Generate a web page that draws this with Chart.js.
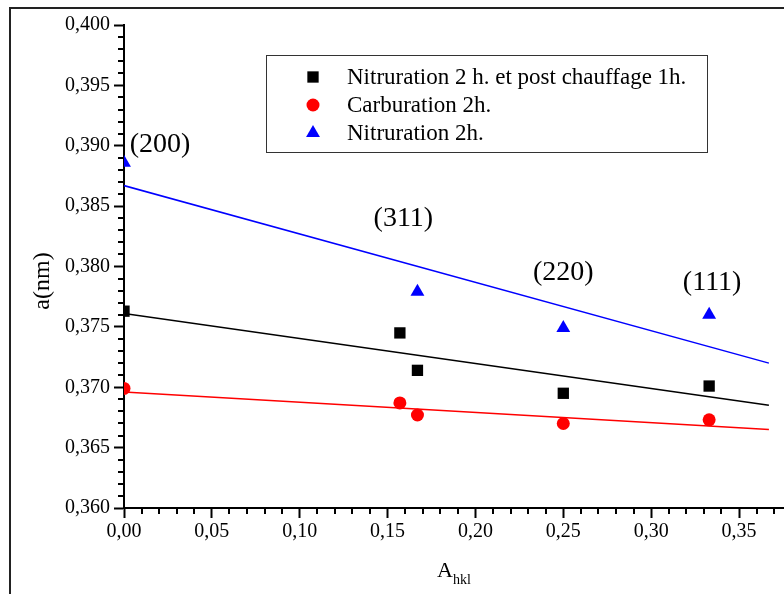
<!DOCTYPE html>
<html>
<head>
<meta charset="utf-8">
<title>a(nm) vs A_hkl</title>
<script src="https://cdn.jsdelivr.net/npm/chart.js@4.4.0/dist/chart.umd.min.js"></script>
<style>
  html, body { margin: 0; padding: 0; background: #fff; }
  #wrap { position: relative; width: 784px; height: 594px; }
</style>
</head>
<body>
<div id="wrap"><canvas id="latticeChart"></canvas></div>
<script>
// --- values ---
const aHkl = [0, 0.157, 0.167, 0.25, 0.333];
const aNitruPost = [0.3763, 0.3745, 0.3714, 0.3695, 0.3701];
const aCarbu = [0.3699, 0.3687, 0.3677, 0.3670, 0.3673];
const aHklNitru = [0, 0.167, 0.25, 0.333];
const aNitru = [0.3886, 0.3779, 0.3749, 0.3760];

// linear fits, end points
const fitX = [0, 0.367];
const fitNitruPost = [0.3761, 0.3685];
const fitCarbu = [0.3696, 0.3665];
const fitNitru = [0.3867, 0.3720];

// (hkl) peak labels
const hklLabels = ['(200)', '(311)', '(220)', '(111)'];
const hklX = [0.0205, 0.159, 0.250, 0.3347];
const hklY = [0.3901, 0.3840, 0.3795, 0.3787];

// axes
const xMin = 0, xMax = 0.3756, xStep = 0.05, xMinor = 0.01;
const yMin = 0.36, yMax = 0.40, yStep = 0.005, yMinor = 0.001;

const SERIF = "'Liberation Serif', 'Times New Roman', serif";

const pts = (xs, ys) => xs.map((x, i) => ({ x, y: ys[i] }));

function markerPath(ctx, style, cx, cy, r) {
  ctx.beginPath();
  if (style === 'rect') {
    const s = r * Math.SQRT1_2;
    ctx.rect(cx - s, cy - s, 2 * s, 2 * s);
  } else if (style === 'triangle') {
    ctx.moveTo(cx, cy - r);
    ctx.lineTo(cx + r * 0.866, cy + r * 0.5);
    ctx.lineTo(cx - r * 0.866, cy + r * 0.5);
    ctx.closePath();
  } else {
    ctx.arc(cx, cy, r, 0, Math.PI * 2);
  }
}

// --- frame, minor ticks, titles, labels and boxed legend ---
const decorations = {
  id: 'decorations',
  afterDraw(chart) {
    const { ctx, chartArea: area, scales: { x, y } } = chart;
    ctx.save();

    // outer frame (top + left only, rest is cropped)
    ctx.strokeStyle = '#222';
    ctx.lineWidth = 2;
    ctx.beginPath();
    ctx.moveTo(10, 594); ctx.lineTo(10, 8); ctx.lineTo(784, 8);
    ctx.stroke();

    // minor ticks
    ctx.strokeStyle = '#000';
    ctx.lineWidth = 2;
    ctx.beginPath();
    const ny = Math.round((yMax - yMin) / yMinor);
    for (let i = 1; i < ny; i++) {
      if (i % 5 === 0) continue;
      const py = Math.round(y.getPixelForValue(yMin + i * yMinor));
      ctx.moveTo(area.left - 6, py); ctx.lineTo(area.left, py);
    }
    const nx = Math.floor((xMax - xMin) / xMinor + 1e-6);
    for (let i = 1; i <= nx; i++) {
      if (i % 5 === 0) continue;
      const px = Math.round(x.getPixelForValue(xMin + i * xMinor));
      ctx.moveTo(px, area.bottom); ctx.lineTo(px, area.bottom + 6);
    }
    ctx.stroke();

    // axis titles
    ctx.fillStyle = '#000';
    ctx.font = '24px ' + SERIF;
    ctx.save();
    ctx.translate(43, 281);
    ctx.rotate(-Math.PI / 2);
    ctx.textAlign = 'center';
    ctx.textBaseline = 'middle';
    ctx.fillText('a(nm)', 0, 0);
    ctx.restore();

    ctx.font = '22px ' + SERIF;
    ctx.textAlign = 'left';
    ctx.textBaseline = 'alphabetic';
    ctx.fillText('A', 437, 577);
    const wA = ctx.measureText('A').width;
    ctx.font = '14px ' + SERIF;
    ctx.fillText('hkl', 437 + wA, 584);

    // (hkl) labels
    ctx.font = '28px ' + SERIF;
    ctx.textAlign = 'center';
    ctx.textBaseline = 'middle';
    hklLabels.forEach((t, i) => {
      ctx.fillText(t, x.getPixelForValue(hklX[i]), y.getPixelForValue(hklY[i]));
    });

    // legend box
    const sets = chart.data.datasets.filter(d => d.label);
    ctx.strokeStyle = '#333';
    ctx.lineWidth = 1;
    ctx.strokeRect(266.5, 55.5, 441, 97);
    ctx.font = '23px ' + SERIF;
    ctx.textAlign = 'left';
    const rows = [77, 105, 133];
    sets.forEach((d, i) => {
      ctx.fillStyle = d.backgroundColor;
      markerPath(ctx, d.pointStyle, 313, rows[i], d.pointStyle === 'circle' ? 6.5 : 8);
      ctx.fill();
      ctx.fillStyle = '#000';
      ctx.fillText(d.label, 347, rows[i] + 1);
    });

    ctx.restore();
  }
};

const markerSet = (label, data, color, style, r) => ({
  label, data,
  backgroundColor: color, borderColor: color, borderWidth: 0,
  pointStyle: style, pointRadius: r, pointHoverRadius: r,
  showLine: false, clip: 0
});

const fitSet = (data, color) => ({
  data, borderColor: color, borderWidth: 1.5,
  pointRadius: 0, showLine: true, clip: 0
});

new Chart(document.getElementById('latticeChart'), {
  type: 'scatter',
  data: {
    datasets: [
      markerSet('Nitruration 2 h. et post chauffage 1h.', pts(aHkl, aNitruPost), '#000000', 'rect', 8),
      markerSet('Carburation 2h.', pts(aHkl, aCarbu), '#ff0000', 'circle', 6.5),
      markerSet('Nitruration 2h.', pts(aHklNitru, aNitru), '#0000ff', 'triangle', 8),
      fitSet(pts(fitX, fitNitruPost), '#000000'),
      fitSet(pts(fitX, fitCarbu), '#ff0000'),
      fitSet(pts(fitX, fitNitru), '#0000ff')
    ]
  },
  options: {
    responsive: true,
    maintainAspectRatio: false,
    animation: false,
    layout: { autoPadding: false, padding: { top: 25, left: 0, right: 0, bottom: 0 } },
    plugins: {
      legend: { display: false },
      tooltip: { enabled: false }
    },
    scales: {
      x: {
        type: 'linear',
        min: xMin, max: xMax,
        border: { display: true, color: '#000', width: 2 },
        grid: { drawOnChartArea: false, tickLength: 10, tickWidth: 2, tickColor: '#000' },
        ticks: {
          stepSize: xStep, autoSkip: false, maxRotation: 0, padding: 2,
          color: '#000', font: { family: SERIF, size: 20 },
          callback: v => v.toFixed(2).replace('.', ',')
        },
        afterBuildTicks: s => {
          const n = Math.floor((xMax - xMin) / xStep + 1e-6);
          s.ticks = Array.from({ length: n + 1 }, (_, i) => ({ value: xMin + i * xStep }));
        },
        afterFit: s => { s.height = 86; s.paddingLeft = 0; s.paddingRight = 0; }
      },
      y: {
        type: 'linear',
        min: yMin, max: yMax,
        border: { display: true, color: '#000', width: 2 },
        grid: { drawOnChartArea: false, tickLength: 10, tickWidth: 2, tickColor: '#000' },
        ticks: {
          stepSize: yStep, autoSkip: false, padding: 4,
          color: '#000', font: { family: SERIF, size: 20 },
          callback: v => v.toFixed(3).replace('.', ',')
        },
        afterFit: s => { s.width = 124; }
      }
    }
  },
  plugins: [decorations]
});
</script>
</body>
</html>
